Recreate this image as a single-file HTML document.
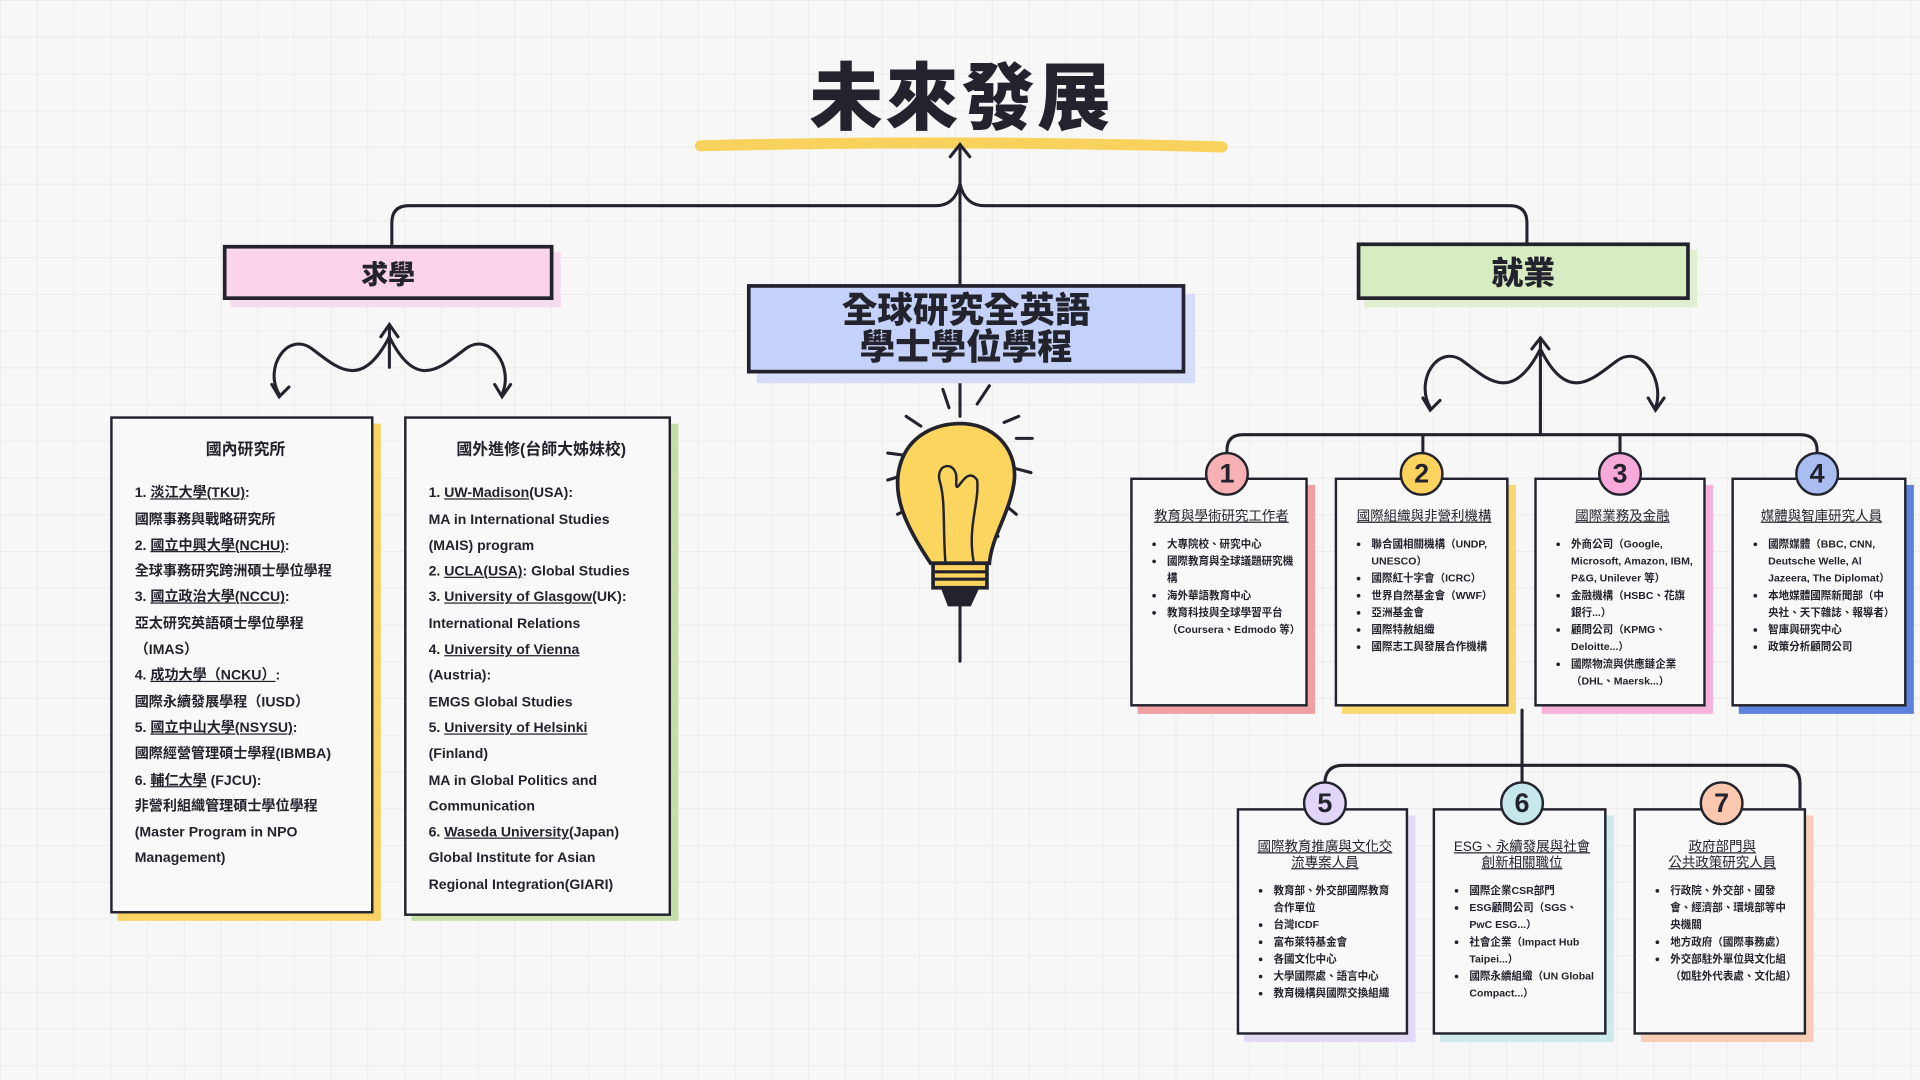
<!DOCTYPE html>
<html><head><meta charset="utf-8">
<style>
html,body{margin:0;padding:0;width:1920px;height:1080px;overflow:hidden;background:#f7f7f7;}
#s{position:absolute;left:0;top:0;width:1568px;height:882px;transform:scale(1.22449);transform-origin:0 0;
background-color:#f7f7f7;background-image:linear-gradient(#ebebeb 1px,transparent 1px),linear-gradient(90deg,#ebebeb 1px,transparent 1px);background-size:30px 30px;
font-family:"Liberation Sans","Noto Sans CJK TC",sans-serif;color:#23232d;}
.a{position:absolute;}
.box{position:absolute;border:3px solid #23232d;box-sizing:border-box;display:flex;align-items:center;justify-content:center;text-align:center;font-weight:900;}
.card{position:absolute;border:2.5px solid #23232d;background:#f9f9f9;box-sizing:border-box;}
.lc{padding:14px 12px 0 18px;font-size:11.5px;font-weight:700;line-height:21.3px;}
.lc h3{margin:0 0 16px 0;text-align:center;font-size:13px;}
u{text-decoration-thickness:1px;}
.rc{padding:24px 8px 0 12px;}
.rc h4{margin:0 0 8px 0;text-align:center;font-size:11px;font-weight:400;text-decoration:underline;line-height:13px;}
.rc ul{margin:0;padding-left:16px;font-size:8.6px;font-weight:700;line-height:14px;}
.circ{position:absolute;width:36px;height:36px;border:2.5px solid #23232d;border-radius:50%;box-sizing:border-box;display:flex;align-items:center;justify-content:center;font-weight:900;font-size:22px;}
</style></head><body><div id="s">
<svg class="a" style="left:0;top:0" width="1568" height="882" fill="none" stroke="#23232d" stroke-width="2.5" stroke-linecap="round">
<path d="M572 119 Q785 114 998 120" stroke="#f8d25c" stroke-width="9"/>
<path d="M784 235 V120 M776 128 L784 118 L792 128"/>
<path d="M320 200 V182 Q320 168 334 168 H764 Q780 168 784 150 Q788 168 804 168 H1233 Q1247 168 1247 182 V198"/>
<path d="M784 305 V340 M784 470 V540"/>
<path d="M228 322 C215 300 235 270 255 285 C275 300 295 320 318 275 C340 320 360 300 380 285 C400 270 420 300 410 322"/>
<path d="M222 314 L228 324 L236 316 M404 314 L410 324 L417 314 M311 275 L318 265 L325 275 M318 265 V300"/>
<path d="M1168 333 C1155 310 1175 280 1195 295 C1215 310 1235 330 1258 285 C1280 330 1300 310 1320 295 C1340 280 1360 310 1352 333"/>
<path d="M1162 325 L1168 335 L1176 327 M1346 325 L1352 335 L1359 325 M1251 285 L1258 276 L1265 285 M1258 276 V355"/>
<path d="M1002 372 V368 Q1002 355 1015 355 H1470 Q1484 355 1484 368 V372 M1162 355 V370 M1323 355 V370"/>
<path d="M1243 580 V625 M1082 640 Q1082 625 1097 625 H1455 Q1470 625 1470 640 V662 M1243 625 V640"/>
<path d="M770 318 L775 333 M808 315 L798 330 M740 340 L752 348 M820 345 L832 340 M725 370 L740 372 M830 358 L843 358 M725 392 L738 388 M827 382 L842 386 M733 420 L745 414 M818 410 L830 420 M808 432 L815 438"/>
<path d="M760 460 C740 430 728 405 735 380 C742 355 765 345 788 346 C815 348 832 370 828 395 C824 420 810 438 808 460 Z" fill="#fbd55e" stroke-width="3"/>
<path d="M772 458 C770 430 772 410 768 395 C762 378 782 375 781 392 C780 410 788 378 798 392 C800 410 790 430 795 458" stroke-width="2"/>
<rect x="762" y="460" width="44" height="20" fill="#fbd55e" stroke-width="3"/>
<path d="M764 467 H804 M764 473 H804"/>
<path d="M770 481 L775 494 H792 L798 481" fill="#23232d"/>
</svg>
<div class="a" style="left:560px;top:36px;width:450px;text-align:center;font-size:60px;font-weight:900;letter-spacing:2px;line-height:90px;">未來發展</div>

<div class="a" style="left:188px;top:206px;width:270px;height:45px;background:#f6dcee"></div>
<div class="box" style="left:182px;top:200px;width:270px;height:45px;background:#fbd3ea;font-size:22px;">求學</div>
<div class="a" style="left:1114px;top:204px;width:272px;height:47px;background:#e0efcf"></div>
<div class="box" style="left:1108px;top:198px;width:272px;height:47px;background:#d7ecc0;font-size:26px;">就業</div>
<div class="a" style="left:618px;top:240px;width:358px;height:73px;background:#d6ddf8"></div>
<div class="box" style="left:610px;top:232px;width:358px;height:73px;background:#c4d1f8;font-size:29px;line-height:30px;">全球研究全英語<br>學士學位學程</div>

<div class="a" style="left:96px;top:346px;width:215px;height:406px;background:#f9d261"></div>
<div class="card lc" style="left:90px;top:340px;width:215px;height:406px;">
<h3>國內研究所</h3>
1. <u>淡江大學(TKU)</u>:<br>國際事務與戰略研究所<br>2. <u>國立中興大學(NCHU)</u>:<br>全球事務研究跨洲碩士學位學程<br>3. <u>國立政治大學(NCCU)</u>:<br>亞太研究英語碩士學位學程（IMAS）<br>4. <u>成功大學（NCKU）</u>:<br>國際永續發展學程（IUSD）<br>5. <u>國立中山大學(NSYSU)</u>:<br>國際經營管理碩士學程(IBMBA)<br>6. <u>輔仁大學</u> (FJCU):<br><span style="line-height:19px">非營利組織管理碩士學位學程 (Master Program in NPO Management)</span>
</div>
<div class="a" style="left:336px;top:346px;width:218px;height:406px;background:#c6dfa8"></div>
<div class="card lc" style="left:330px;top:340px;width:218px;height:408px;">
<h3>國外進修(台師大姊妹校)</h3>
1. <u>UW-Madison</u>(USA):<br>MA in International Studies (MAIS) program<br>2. <u>UCLA(USA)</u>: Global Studies<br>3. <u>University of Glasgow</u>(UK):<br>International Relations<br>4. <u>University of Vienna</u><br>(Austria):<br>EMGS Global Studies<br>5. <u>University of Helsinki</u><br>(Finland)<br>MA in Global Politics and Communication<br>6. <u>Waseda University</u>(Japan)<br>Global Institute for Asian Regional Integration(GIARI)
</div>

<div class="a" style="left:929px;top:396px;width:145px;height:187px;background:#f0a0a4"></div>
<div class="card rc" style="left:923px;top:390px;width:145px;height:187px;"><h4>教育與學術研究工作者</h4><ul><li>大專院校、研究中心</li><li>國際教育與全球議題研究機構</li><li>海外華語教育中心</li><li>教育科技與全球學習平台（Coursera、Edmodo 等）</li></ul></div>
<div class="a" style="left:1096px;top:396px;width:142px;height:187px;background:#f9d870"></div>
<div class="card rc" style="left:1090px;top:390px;width:142px;height:187px;"><h4>國際組織與非營利機構</h4><ul><li>聯合國相關機構（UNDP, UNESCO）</li><li>國際紅十字會（ICRC）</li><li>世界自然基金會（WWF）</li><li>亞洲基金會</li><li>國際特赦組織</li><li>國際志工與發展合作機構</li></ul></div>
<div class="a" style="left:1259px;top:396px;width:140px;height:187px;background:#f6b2d8"></div>
<div class="card rc" style="left:1253px;top:390px;width:140px;height:187px;"><h4>國際業務及金融</h4><ul><li>外商公司（Google, Microsoft, Amazon, IBM, P&amp;G, Unilever 等）</li><li>金融機構（HSBC、花旗銀行...）</li><li>顧問公司（KPMG、Deloitte...）</li><li>國際物流與供應鏈企業（DHL、Maersk...）</li></ul></div>
<div class="a" style="left:1420px;top:396px;width:143px;height:187px;background:#5f82dc"></div>
<div class="card rc" style="left:1414px;top:390px;width:143px;height:187px;"><h4>媒體與智庫研究人員</h4><ul><li>國際媒體（BBC, CNN, Deutsche Welle, Al Jazeera, The Diplomat）</li><li>本地媒體國際新聞部（中央社、天下雜誌、報導者）</li><li>智庫與研究中心</li><li>政策分析顧問公司</li></ul></div>
<div class="circ" style="left:984px;top:369px;background:#f7b0b4">1</div>
<div class="circ" style="left:1143px;top:369px;background:#fbd35d">2</div>
<div class="circ" style="left:1305px;top:369px;background:#f8a9dc">3</div>
<div class="circ" style="left:1466px;top:369px;background:#a9bdf0">4</div>

<div class="a" style="left:1016px;top:666px;width:140px;height:185px;background:#e4d9f7"></div>
<div class="card rc" style="left:1010px;top:660px;width:140px;height:185px;"><h4>國際教育推廣與文化交流專案人員</h4><ul><li>教育部、外交部國際教育合作單位</li><li>台灣ICDF</li><li>富布萊特基金會</li><li>各國文化中心</li><li>大學國際處、語言中心</li><li>教育機構與國際交換組織</li></ul></div>
<div class="a" style="left:1176px;top:666px;width:142px;height:185px;background:#cdeaec"></div>
<div class="card rc" style="left:1170px;top:660px;width:142px;height:185px;"><h4>ESG、永續發展與社會創新相關職位</h4><ul><li>國際企業CSR部門</li><li>ESG顧問公司（SGS、PwC ESG...）</li><li>社會企業（Impact Hub Taipei...）</li><li>國際永續組織（UN Global Compact...）</li></ul></div>
<div class="a" style="left:1340px;top:666px;width:141px;height:185px;background:#f8cdb8"></div>
<div class="card rc" style="left:1334px;top:660px;width:141px;height:185px;"><h4>政府部門與<br>公共政策研究人員</h4><ul><li>行政院、外交部、國發會、經濟部、環境部等中央機關</li><li>地方政府（國際事務處）</li><li>外交部駐外單位與文化組（如駐外代表處、文化組）</li></ul></div>
<div class="circ" style="left:1064px;top:638px;background:#e1d6f8">5</div>
<div class="circ" style="left:1225px;top:638px;background:#c6e8ea">6</div>
<div class="circ" style="left:1388px;top:638px;background:#fcc9b0">7</div>
</div></body></html>
